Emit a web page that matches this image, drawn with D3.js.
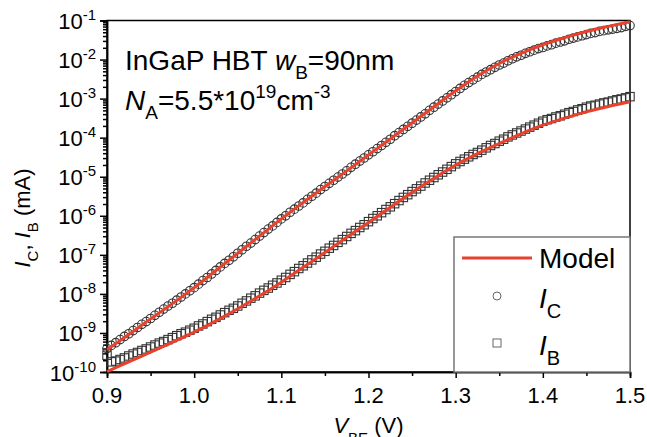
<!DOCTYPE html>
<html lang="en">
<head>
<meta charset="UTF-8">
<title>InGaP HBT Gummel plot</title>
<script src="https://d3js.org/d3.v7.min.js"></script>
<style>
    body { margin: 0; background: #fff; }
    svg text { font-family: "Liberation Sans", Arial, sans-serif; fill: #000; }
    .axis path, .axis line { stroke: #000; stroke-width: 1.5; }
</style>
</head>
<body>
<script>
// measured bias points (V)
const vbeData = [
    0.900,0.905,0.910,0.915,0.920,0.925,0.930,0.935,0.940,0.945,
    0.950,0.955,0.960,0.965,0.970,0.975,0.980,0.985,0.990,0.995,
    1.000,1.005,1.010,1.015,1.020,1.025,1.030,1.035,1.040,1.045,
    1.050,1.055,1.060,1.065,1.070,1.075,1.080,1.085,1.090,1.095,
    1.100,1.105,1.110,1.115,1.120,1.125,1.130,1.135,1.140,1.145,
    1.150,1.155,1.160,1.165,1.170,1.175,1.180,1.185,1.190,1.195,
    1.200,1.205,1.210,1.215,1.220,1.225,1.230,1.235,1.240,1.245,
    1.250,1.255,1.260,1.265,1.270,1.275,1.280,1.285,1.290,1.295,
    1.300,1.305,1.310,1.315,1.320,1.325,1.330,1.335,1.340,1.345,
    1.350,1.355,1.360,1.365,1.370,1.375,1.380,1.385,1.390,1.395,
    1.400,1.405,1.410,1.415,1.420,1.425,1.430,1.435,1.440,1.445,
    1.450,1.455,1.460,1.465,1.470,1.475,1.480,1.485,1.490,1.495,
    1.500
];
// log10 of measured I_C (mA), circles
const icData = [
    -9.40,-9.32,-9.25,-9.17,-9.09,-9.02,-8.94,-8.86,-8.78,-8.71,
    -8.63,-8.55,-8.47,-8.39,-8.31,-8.24,-8.16,-8.08,-8.00,-7.92,
    -7.84,-7.75,-7.66,-7.58,-7.49,-7.40,-7.31,-7.22,-7.14,-7.05,
    -6.96,-6.87,-6.78,-6.70,-6.61,-6.52,-6.43,-6.34,-6.26,-6.17,
    -6.08,-6.00,-5.91,-5.83,-5.75,-5.67,-5.58,-5.50,-5.42,-5.33,
    -5.25,-5.17,-5.09,-5.01,-4.93,-4.85,-4.76,-4.68,-4.60,-4.52,
    -4.44,-4.36,-4.28,-4.20,-4.12,-4.04,-3.95,-3.87,-3.79,-3.71,
    -3.63,-3.55,-3.47,-3.39,-3.30,-3.22,-3.14,-3.06,-2.98,-2.90,
    -2.82,-2.74,-2.66,-2.59,-2.52,-2.45,-2.38,-2.32,-2.26,-2.20,
    -2.14,-2.09,-2.03,-1.98,-1.93,-1.89,-1.84,-1.80,-1.76,-1.72,
    -1.69,-1.65,-1.62,-1.58,-1.55,-1.52,-1.48,-1.45,-1.42,-1.39,
    -1.36,-1.33,-1.31,-1.28,-1.26,-1.24,-1.22,-1.20,-1.18,-1.15,
    -1.13
];
// log10 of measured I_B (mA), squares
const ibData = [
    -9.57,-9.74,-9.72,-9.68,-9.64,-9.59,-9.54,-9.50,-9.45,-9.41,
    -9.36,-9.31,-9.26,-9.22,-9.17,-9.12,-9.07,-9.02,-8.98,-8.93,
    -8.88,-8.82,-8.77,-8.71,-8.65,-8.60,-8.54,-8.48,-8.42,-8.37,
    -8.31,-8.24,-8.18,-8.11,-8.05,-7.98,-7.91,-7.85,-7.78,-7.72,
    -7.65,-7.58,-7.50,-7.43,-7.35,-7.28,-7.21,-7.13,-7.06,-6.98,
    -6.91,-6.83,-6.76,-6.68,-6.61,-6.53,-6.45,-6.38,-6.30,-6.23,
    -6.15,-6.07,-6.00,-5.92,-5.84,-5.77,-5.69,-5.61,-5.53,-5.46,
    -5.38,-5.31,-5.24,-5.16,-5.09,-5.02,-4.95,-4.88,-4.81,-4.74,
    -4.67,-4.61,-4.55,-4.49,-4.43,-4.38,-4.32,-4.26,-4.20,-4.15,
    -4.09,-4.04,-3.98,-3.93,-3.88,-3.83,-3.78,-3.73,-3.68,-3.63,
    -3.58,-3.54,-3.51,-3.47,-3.44,-3.40,-3.36,-3.33,-3.29,-3.26,
    -3.22,-3.19,-3.17,-3.14,-3.11,-3.09,-3.06,-3.03,-3.01,-2.98,
    -2.95
];

// model curves
const vbeModel = [0.900,0.925,0.950,0.975,1.000,1.025,1.050,1.075,1.100,1.125,1.150,1.175,1.200,
                  1.225,1.250,1.275,1.300,1.325,1.350,1.375,1.400,1.425,1.450,1.475,1.500];
const icModel = [-9.43,-9.04,-8.64,-8.25,-7.84,-7.40,-6.96,-6.52,-6.08,-5.66,-5.25,-4.85,-4.44,
                 -4.03,-3.62,-3.21,-2.80,-2.42,-2.10,-1.84,-1.62,-1.44,-1.28,-1.15,-1.03];
const ibModel = [-9.99,-9.74,-9.49,-9.24,-8.98,-8.69,-8.38,-8.05,-7.70,-7.32,-6.94,-6.55,-6.17,
                 -5.78,-5.40,-5.04,-4.70,-4.41,-4.15,-3.90,-3.68,-3.50,-3.34,-3.20,-3.08];

const xTicks = [0.9, 1.0, 1.1, 1.2, 1.3, 1.4, 1.5];
const xMinor = [0.95, 1.05, 1.15, 1.25, 1.35, 1.45];
const yExps = [-10, -9, -8, -7, -6, -5, -4, -3, -2, -1];

const W = 647, H = 437;
const plotL = 107, plotR = 630, plotT = 20.5, plotB = 372;
const red = "#e8412c";
const markStroke = "#333";

const svg = d3.select("body").append("svg")
    .attr("width", W)
    .attr("height", H);

const x = d3.scaleLinear().domain([0.9, 1.5]).range([plotL, plotR]);
const y = d3.scaleLog().domain([1e-10, 1e-1]).range([plotB, plotT]);

// minor ticks on log axis
const yMinor = [];
yExps.slice(0, -1).forEach(e => {
    for (let k = 2; k <= 9; k++) yMinor.push(k * Math.pow(10, e));
});

// axes
svg.append("g").attr("class", "axis")
    .attr("transform", `translate(${plotL},0)`)
    .call(d3.axisLeft(y).tickValues(yMinor).tickSize(4).tickFormat(""));
svg.append("g").attr("class", "axis")
    .attr("transform", `translate(${plotL},0)`)
    .call(d3.axisLeft(y).tickValues(yExps.map(e => Math.pow(10, e))).tickSize(7).tickFormat(""));
svg.append("g").attr("class", "axis")
    .attr("transform", `translate(0,${plotB})`)
    .call(d3.axisBottom(x).tickValues(xMinor).tickSize(4).tickFormat(""));
svg.append("g").attr("class", "axis")
    .attr("transform", `translate(0,${plotB})`)
    .call(d3.axisBottom(x).tickValues(xTicks).tickSize(6).tickFormat(""));

// frame
svg.append("rect")
    .attr("x", plotL).attr("y", plotT)
    .attr("width", plotR - plotL).attr("height", plotB - plotT)
    .attr("fill", "none").attr("stroke", "#000").attr("stroke-width", 1.5);

// y tick labels 10^n
const yl = svg.append("g").selectAll("text")
    .data(yExps)
    .enter().append("text")
    .attr("x", 96)
    .attr("y", d => y(Math.pow(10, d)) + 8.5)
    .attr("text-anchor", "end")
    .style("font-size", "22px");
yl.append("tspan").text("10");
yl.append("tspan").attr("dy", -9).style("font-size", "15px").text(d => "-" + (-d));

// x tick labels
svg.append("g").selectAll("text")
    .data(xTicks)
    .enter().append("text")
    .attr("x", d => x(d))
    .attr("y", 403)
    .attr("text-anchor", "middle")
    .style("font-size", "22px")
    .text(d => d.toFixed(1));

// axis titles
const xt = svg.append("text")
    .attr("x", (plotL + plotR) / 2)
    .attr("y", 433)
    .attr("text-anchor", "middle")
    .style("font-size", "22px");
xt.append("tspan").style("font-style", "italic").text("V");
xt.append("tspan").attr("dy", 10).style("font-size", "15px").text("BE");
xt.append("tspan").attr("dy", -10).text(" (V)");

const yt = svg.append("text")
    .attr("transform", "translate(30,218) rotate(-90)")
    .attr("text-anchor", "middle")
    .style("font-size", "22px");
yt.append("tspan").style("font-style", "italic").text("I");
yt.append("tspan").attr("dy", 8).style("font-size", "15px").text("C");
yt.append("tspan").attr("dy", -8).text(", ");
yt.append("tspan").style("font-style", "italic").text("I");
yt.append("tspan").attr("dy", 8).style("font-size", "15px").text("B");
yt.append("tspan").attr("dy", -8).text(" (mA)");

// annotations
const a1 = svg.append("text").attr("x", 125).attr("y", 70).style("font-size", "28px");
a1.append("tspan").text("InGaP HBT ");
a1.append("tspan").style("font-style", "italic").text("w");
a1.append("tspan").attr("dy", 9).style("font-size", "19px").text("B");
a1.append("tspan").attr("dy", -9).text("=90nm");

const a2 = svg.append("text").attr("x", 125).attr("y", 110).style("font-size", "28px");
a2.append("tspan").style("font-style", "italic").text("N");
a2.append("tspan").attr("dy", 9).style("font-size", "19px").text("A");
a2.append("tspan").attr("dy", -9).text("=5.5*10");
a2.append("tspan").attr("dy", -12).style("font-size", "19px").text("19");
a2.append("tspan").attr("dy", 12).text("cm");
a2.append("tspan").attr("dy", -12).style("font-size", "19px").text("-3");

// measured markers
const pts = vbeData.map((v, i) => ({v: v, ic: Math.pow(10, icData[i]), ib: Math.pow(10, ibData[i])}));

svg.append("g").selectAll("circle")
    .data(pts)
    .enter().append("circle")
    .attr("cx", d => x(d.v))
    .attr("cy", d => y(d.ic))
    .attr("r", 4.3)
    .attr("fill", "none")
    .attr("stroke", markStroke)
    .attr("stroke-width", 1.1);

svg.append("g").selectAll("rect")
    .data(pts)
    .enter().append("rect")
    .attr("x", d => x(d.v) - 4.2)
    .attr("y", d => y(d.ib) - 4.2)
    .attr("width", 8.4)
    .attr("height", 8.4)
    .attr("fill", "none")
    .attr("stroke", markStroke)
    .attr("stroke-width", 1.1);

// model lines
const line = d3.line()
    .x(d => x(d[0]))
    .y(d => y(Math.pow(10, d[1])))
    .curve(d3.curveMonotoneX);

[icModel, ibModel].forEach(m => {
    svg.append("path")
        .datum(vbeModel.map((v, i) => [v, m[i]]))
        .attr("d", line)
        .attr("fill", "none")
        .attr("stroke", red)
        .attr("stroke-width", 3);
});

// legend
const lg = svg.append("g");
lg.append("rect")
    .attr("x", 454).attr("y", 237)
    .attr("width", plotR - 454).attr("height", plotB - 237)
    .attr("fill", "#fff").attr("stroke", "#777").attr("stroke-width", 1.5);
lg.append("line")
    .attr("x1", 462).attr("x2", 532).attr("y1", 258).attr("y2", 258)
    .attr("stroke", red).attr("stroke-width", 3);
lg.append("text").attr("x", 539).attr("y", 268).style("font-size", "28px").text("Model");
lg.append("circle")
    .attr("cx", 497).attr("cy", 296).attr("r", 4)
    .attr("fill", "none").attr("stroke", "#666").attr("stroke-width", 1);
lg.append("rect")
    .attr("x", 493).attr("y", 339).attr("width", 8).attr("height", 8)
    .attr("fill", "none").attr("stroke", "#666").attr("stroke-width", 1);

const lc = lg.append("text").attr("x", 539).attr("y", 308).style("font-size", "28px");
lc.append("tspan").style("font-style", "italic").text("I");
lc.append("tspan").attr("dy", 10).style("font-size", "20px").text("C");
const lb = lg.append("text").attr("x", 539).attr("y", 355).style("font-size", "28px");
lb.append("tspan").style("font-style", "italic").text("I");
lb.append("tspan").attr("dy", 10).style("font-size", "20px").text("B");
</script>
</body>
</html>
